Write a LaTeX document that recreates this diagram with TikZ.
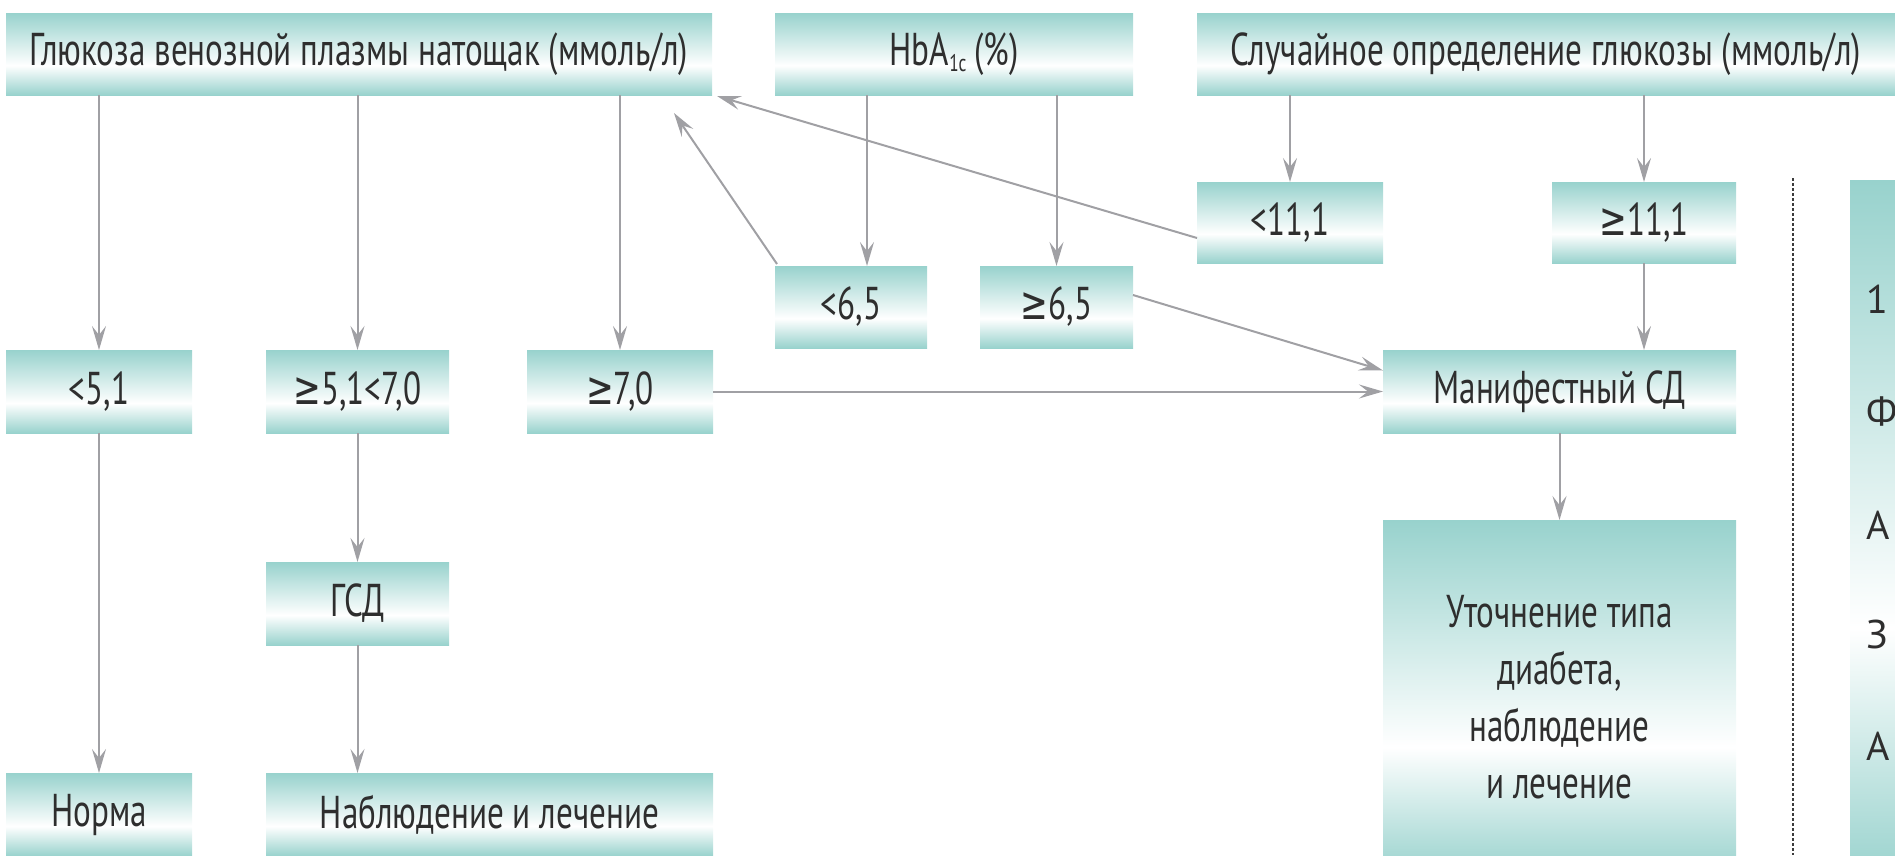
\documentclass[tikz,border=0pt]{standalone}
\usepackage{fontspec}
\setmainfont{PT Sans}[FakeStretch=0.72]
\newfontfamily\stripfont{PT Sans}
\newfontfamily\symfont{DejaVu Sans}[FakeStretch=0.72]
\usetikzlibrary{arrows.meta}
\definecolor{tealc}{RGB}{152,210,205}
\definecolor{arrgray}{RGB}{160,160,164}
\definecolor{dotc}{RGB}{60,60,60}
\pgfdeclareverticalshading{boxsh}{100bp}{color(0bp)=(tealc); color(25bp)=(tealc); color(43bp)=(white); color(75bp)=(tealc); color(100bp)=(tealc)}
\newcommand{\gesym}{{\symfont ≥}}
\tikzset{
  bx/.style={shade, shading=boxsh, minimum height=82pt, inner sep=0pt, outer sep=0pt,
    font=\fontsize{46}{57}\selectfont, text=black!82},
  arr/.style={draw=arrgray, line width=2pt, -{Stealth[length=24pt,width=14pt,inset=9pt]}},
  dotline/.style={draw=dotc, line width=2.6pt, dash pattern=on 2.6pt off 2.4pt},
  stripletter/.style={anchor=west, inner sep=0pt, font=\stripfont\fontsize{40}{40}\selectfont, text=black!82}
}
\begin{document}
\begin{tikzpicture}[x=1pt,y=-1pt]
\useasboundingbox (0,0) rectangle (1895,855);
\clip (0,0) rectangle (1895,855);
% top row
\node[bx, minimum width=706pt] (A) at (359,54) {Глюкоза венозной плазмы натощак (ммоль/л)};
\node[bx, minimum width=358pt] (B) at (954,54) {HbA\raisebox{-0.14em}{\fontsize{24}{24}\selectfont 1c}\,(\%)};
\node[bx, minimum width=698pt] (C) at (1546,54) {Случайное определение глюкозы (ммоль/л)};
% second rows
\node[bx, minimum width=186pt, minimum height=81pt] (lt111) at (1290,222.5) {<11,1};
\node[bx, minimum width=184pt, minimum height=81pt] (ge111) at (1644,222.5) {\gesym11,1};
\node[bx, minimum width=152pt] (lt65) at (851,307) {<6,5};
\node[bx, minimum width=153pt] (ge65) at (1056.5,307) {\gesym6,5};
% third row
\node[bx, minimum width=186pt, minimum height=83pt] (lt51) at (99,391.5) {<5,1};
\node[bx, minimum width=183pt, minimum height=83pt] (ge51) at (357.5,391.5) {\gesym5,1<7,0};
\node[bx, minimum width=186pt, minimum height=83pt] (ge70) at (620,391.5) {\gesym7,0};
\node[bx, minimum width=353pt, minimum height=83pt] (manif) at (1559.5,391.5) {Манифестный СД};
% lower
\node[bx, minimum width=183pt, minimum height=83pt] (gsd) at (357.5,603.5) {ГСД};
\node[bx, minimum width=353pt, minimum height=355pt, align=center] (utoch) at (1559.5,697.5)
  {Уточнение типа\\диабета,\\наблюдение\\и лечение};
\node[bx, minimum width=186pt, minimum height=83pt] (norma) at (99,814.5) {Норма};
\node[bx, minimum width=447pt, minimum height=83pt] (nabl) at (489.5,814.5) {Наблюдение и лечение};
% right strip
\node[bx, minimum width=60pt, minimum height=700pt] (strip) at (1880,530) {};
\node[stripletter] (s1) at (1866,299) {1};
\node[stripletter] (s2) at (1866,411) {Ф};
\node[stripletter] (s3) at (1866,525) {А};
\node[stripletter] (s4) at (1866,634) {З};
\node[stripletter] (s5) at (1866,746) {А};
% dotted separator
\coordinate (dtop) at (1793,178);
\coordinate (dbot) at (1793,855);
\draw[dotline] (dtop) -- (dbot);
% connectors
\draw[arr] (A.south -| lt51.north) -- (lt51.north);
\draw[arr] (A.south -| ge51.north) -- (ge51.north);
\draw[arr] (A.south -| ge70.north) -- (ge70.north);
\draw[arr] (lt51.south) -- (norma.north);
\draw[arr] (ge51.south) -- (gsd.north);
\draw[arr] (gsd.south) -- (nabl.north -| gsd.south);
\draw[arr] (ge70.east) -- (manif.west);
\draw[arr] ([xshift=-87pt]B.south) -- ([xshift=16pt]lt65.north);
\draw[arr] (B.south -| ge65.north) -- (ge65.north);
\draw[arr] ([xshift=2pt,yshift=2pt]lt65.north west) -- ([xshift=-38pt,yshift=-18pt]A.south east);
\draw[arr] ([yshift=-15.5pt]lt111.west) -- ([xshift=5pt,yshift=-1pt]A.south east);
\draw[arr] ([yshift=12pt]ge65.east) -- ([yshift=21pt]manif.west);
\draw[arr] (C.south -| lt111.north) -- (lt111.north);
\draw[arr] (C.south -| ge111.north) -- (ge111.north);
\draw[arr] (ge111.south) -- (manif.north -| ge111.south);
\draw[arr] (manif.south) -- (utoch.north);
\end{tikzpicture}
\end{document}
